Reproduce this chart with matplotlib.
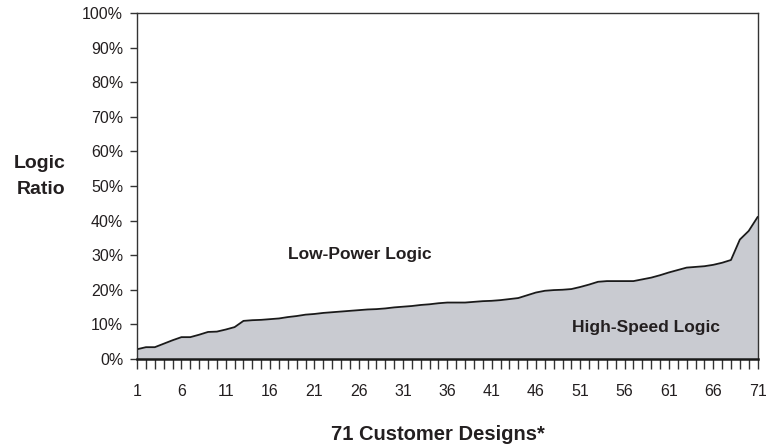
import matplotlib

matplotlib.use("Agg")

import matplotlib.pyplot as plt
import numpy as np

plt.rcParams["font.family"] = ["Liberation Sans", "DejaVu Sans"]

DESIGNS = list(range(1, 72))
LOGIC_RATIO = [
    2.8, 3.4, 3.4, 4.4, 5.4, 6.3, 6.3, 7.0, 7.8, 7.9,
    8.5, 9.2, 11.0, 11.2, 11.3, 11.5, 11.7, 12.1, 12.4, 12.8,
    13.0, 13.3, 13.5, 13.7, 13.9, 14.1, 14.3, 14.4, 14.6, 14.9,
    15.1, 15.3, 15.6, 15.8, 16.1, 16.3, 16.3, 16.3, 16.5, 16.7,
    16.8, 17.0, 17.3, 17.6, 18.4, 19.2, 19.7, 19.9, 20.0, 20.2,
    20.8, 21.5, 22.3, 22.5, 22.5, 22.5, 22.5, 23.0, 23.5, 24.2,
    25.0, 25.7, 26.4, 26.6, 26.8, 27.2, 27.8, 28.6, 34.5, 37.0,
    41.0,
]
Y_TICKS = list(range(0, 101, 10))
X_LABEL_TICKS = list(range(1, 72, 5))

TEXT_COLOR = "#231f20"

fig = plt.figure(figsize=(7.66, 4.47), dpi=100)
ax = fig.add_axes([0.179, 0.197, 0.810, 0.774])

x = np.array(DESIGNS)
y = np.array(LOGIC_RATIO)
ax.fill_between(x, 0, y, color="#c9cbd1", linewidth=0)
ax.plot(x, y, color="#1a1a1a", linewidth=1.3)

ax.set_xlim(1, 71)
ax.set_ylim(0, 100)

ax.set_yticks(Y_TICKS)
ax.set_yticklabels([f"{v}%" for v in Y_TICKS])
ax.set_xticks(X_LABEL_TICKS)
ax.set_xticks(DESIGNS, minor=True)

ax.tick_params(axis="y", direction="out", length=5, width=1, pad=5,
               labelsize=11.5, colors="#333333", labelcolor=TEXT_COLOR)
ax.tick_params(axis="x", which="both", direction="out", length=7, width=1,
               pad=11, labelsize=11.5, colors="#333333", labelcolor=TEXT_COLOR)

for side in ("left", "top", "right"):
    ax.spines[side].set_color("#333333")
    ax.spines[side].set_linewidth(1.0)
ax.spines["bottom"].set_color("#1a1a1a")
ax.spines["bottom"].set_linewidth(1.8)

fig.text(0.052, 1 - 163 / 447, "Logic", ha="center", va="center",
         fontsize=14, fontweight="bold", color=TEXT_COLOR)
fig.text(0.054, 1 - 189 / 447, "Ratio", ha="center", va="center",
         fontsize=14, fontweight="bold", color=TEXT_COLOR)
fig.text(438 / 766, 1 - 434 / 447, "71 Customer Designs*", ha="center",
         va="center", fontsize=14.5, fontweight="bold", color=TEXT_COLOR)

ax.text(26.1, 30.3, "Low-Power Logic", ha="center", va="center",
        fontsize=12.5, fontweight="bold", color=TEXT_COLOR)
ax.text(58.4, 9.0, "High-Speed Logic", ha="center", va="center",
        fontsize=12.5, fontweight="bold", color=TEXT_COLOR)

fig.savefig("out.png", dpi=100)
